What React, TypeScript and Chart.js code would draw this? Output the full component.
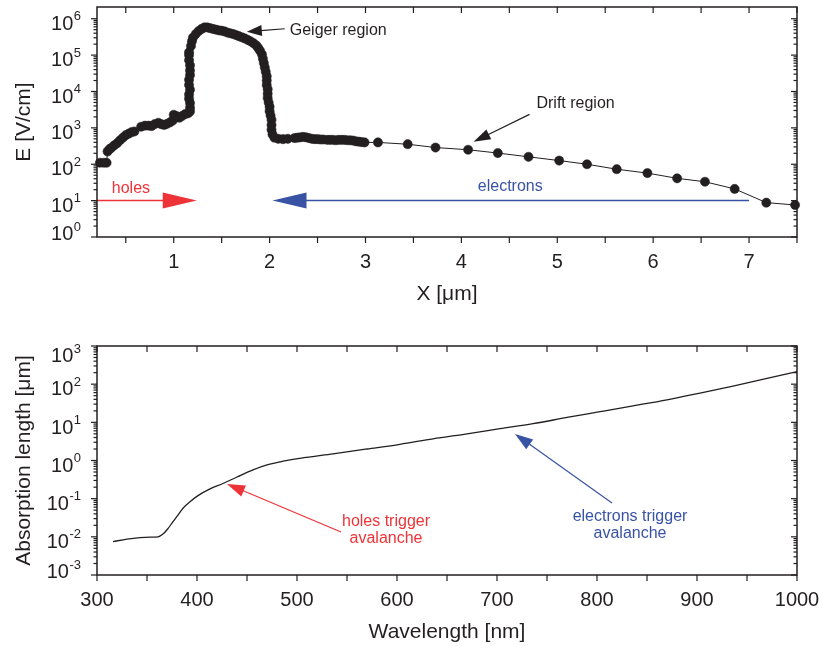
import React, { useEffect, useRef } from "react";
import { Chart, registerables } from "chart.js";

Chart.register(...registerables);

const INK = "#231f20";
const RED = "#ee3338";
const BLUE = "#3953a4";
const FONT = "'Liberation Sans', Arial, Helvetica, sans-serif";

// ---------- Top panel: electric field vs depth ----------
const positionX = [
  0.23, 0.27, 0.3, 0.31, 0.33, 0.35, 0.38, 0.41, 0.44, 0.47, 0.5, 0.53, 0.56, 0.59,
  0.66, 0.7, 0.74, 0.77, 0.8, 0.84, 0.87, 0.9, 0.93, 0.96, 0.99, 1.0, 1.03, 1.06,
  1.09, 1.12, 1.15, 1.17, 1.17, 1.17, 1.16, 1.16, 1.17, 1.16, 1.16, 1.17, 1.17,
  1.17, 1.16, 1.16, 1.16, 1.18, 1.19, 1.2, 1.23, 1.26, 1.29, 1.32, 1.35, 1.38,
  1.41, 1.44, 1.47, 1.5, 1.53, 1.56, 1.59, 1.62, 1.65, 1.68, 1.71, 1.74, 1.77,
  1.8, 1.83, 1.86, 1.88, 1.9, 1.92, 1.93, 1.94, 1.95, 1.96, 1.97, 1.97, 1.97,
  1.98, 1.98, 1.98, 1.99, 2.0, 2.0, 2.01, 2.02, 2.02, 2.02, 2.03, 2.05, 2.09,
  2.14, 2.19, 2.26, 2.29, 2.32, 2.35, 2.38, 2.41, 2.44, 2.47, 2.5, 2.53, 2.56,
  2.6, 2.63, 2.66, 2.69, 2.72, 2.75, 2.78, 2.81, 2.84, 2.87, 2.9, 2.93, 2.96,
  2.99, 3.13, 3.44, 3.73, 4.07, 4.38, 4.7, 5.02, 5.31, 5.62, 5.94, 6.25, 6.54,
  6.85, 7.18, 7.48,
];
const fieldE = [
  110, 110, 110, 224, 260, 282, 331, 380, 457, 537, 631, 692, 759, 794,
  1072, 1148, 1148, 1122, 1259, 1380, 1259, 1202, 1288, 1413, 1585, 2291, 2089, 1905,
  2138, 2399, 2512, 2818, 3548, 4786, 6310, 8318, 11220, 15136, 20893, 28184, 38019,
  52481, 72444, 100000, 120000, 177800, 240000, 302000, 380000, 457000, 525000, 575000, 575000, 550000,
  525000, 501000, 479000, 468000, 447000, 417000, 398000, 380000, 355000, 331000, 309000, 288000, 263000,
  240000, 214000, 186000, 158000, 132000, 105000, 79400, 60300, 45700, 34700, 26300, 20000, 15100,
  11500, 8710, 6610, 5010, 3800, 2880, 2190, 1660, 1200, 891, 661, 537, 501,
  490, 501, 525, 537, 550, 562, 550, 525, 501, 490, 490, 479, 479,
  468, 468, 468, 457, 468, 468, 468, 457, 457, 447, 427, 417, 407,
  398, 398, 355, 288, 250, 203, 160, 126, 100, 73, 57, 41, 33,
  21, 8.8, 7.6,
];
const topXMajor = [1, 2, 3, 4, 5, 6, 7];
const topXMinor = [0.5, 1.5, 2.5, 3.5, 4.5, 5.5, 6.5, 7.5];
const topDecades = [0, 1, 2, 3, 4, 5, 6];

// ---------- Bottom panel: absorption length vs wavelength ----------
const wavelength = [
  316, 330, 343, 353, 361, 366, 371, 376, 381, 386, 393, 401, 413, 426, 440, 456,
  470, 486, 503, 536, 570, 603, 636, 670, 703, 736, 770, 803, 836, 870, 903, 936,
  970, 1000,
];
const absorptionLength = [
  0.0075, 0.0087, 0.0095, 0.0098, 0.01, 0.0118, 0.0165, 0.025, 0.037, 0.056, 0.083, 0.12,
  0.18, 0.25, 0.37, 0.57, 0.77, 0.96, 1.14, 1.5, 2.0, 2.65, 3.7, 5.0, 6.8, 9.2,
  13.4, 19, 27, 39, 58, 89, 141, 214,
];
const botXMajor = [300, 400, 500, 600, 700, 800, 900, 1000];
const botXMinor = [350, 450, 550, 650, 750, 850, 950];
const botDecades = [-3, -2, -1, 0, 1, 2, 3];

type Arrow = { from: [number, number]; to: [number, number]; color: string; lw: number; head: number; half: number };
type Note = { text: string; x: number; y: number; color: string; align: CanvasTextAlign };

const topArrows: Arrow[] = [
  { from: [0.2, 10], to: [1.24, 10], color: RED, lw: 1.5, head: 34, half: 8 },
  { from: [7.0, 10], to: [2.03, 10], color: BLUE, lw: 1.5, head: 34, half: 8 },
  { from: [2.158, 531000], to: [1.7625, 440000], color: INK, lw: 1.2, head: 15, half: 5.5 },
  { from: [4.71, 2350], to: [4.127, 412], color: INK, lw: 1.2, head: 17, half: 5.5 },
];
const topNotes: Note[] = [
  { text: "holes", x: 0.554, y: 21, color: RED, align: "center" },
  { text: "electrons", x: 4.51, y: 25, color: BLUE, align: "center" },
  { text: "Geiger region", x: 2.21, y: 468000, color: INK, align: "left" },
  { text: "Drift region", x: 4.783, y: 4580, color: INK, align: "left" },
];
const botArrows: Arrow[] = [
  { from: [544, 0.0134], to: [430, 0.243], color: RED, lw: 1.2, head: 18, half: 6 },
  { from: [815, 0.077], to: [718, 4.95], color: BLUE, lw: 1.2, head: 18, half: 6 },
];
const botNotes: Note[] = [
  { text: "holes trigger", x: 589, y: 0.0245, color: RED, align: "center" },
  { text: "avalanche", x: 589, y: 0.0091, color: RED, align: "center" },
  { text: "electrons trigger", x: 833, y: 0.033, color: BLUE, align: "center" },
  { text: "avalanche", x: 833, y: 0.0119, color: BLUE, align: "center" },
];

type PanelCfg = {
  id: string;
  xMajor: number[];
  xMinor: number[];
  decades: number[];
  xTitle: string;
  yTitle: string;
  arrows: Arrow[];
  notes: Note[];
};

function drawArrow(ctx: CanvasRenderingContext2D, x1: number, y1: number, x2: number, y2: number, a: Arrow) {
  const ang = Math.atan2(y2 - y1, x2 - x1);
  const c = Math.cos(ang), s = Math.sin(ang);
  const bx = x2 - a.head * c, by = y2 - a.head * s;
  ctx.strokeStyle = a.color;
  ctx.fillStyle = a.color;
  ctx.lineWidth = a.lw;
  ctx.beginPath();
  ctx.moveTo(x1, y1);
  ctx.lineTo(bx + 1 * c, by + 1 * s);
  ctx.stroke();
  ctx.beginPath();
  ctx.moveTo(x2, y2);
  ctx.lineTo(bx - a.half * s, by + a.half * c);
  ctx.lineTo(bx + a.half * s, by - a.half * c);
  ctx.closePath();
  ctx.fill();
}

function makePanelPlugin(cfg: PanelCfg) {
  return {
    id: cfg.id,
    afterDraw(chart: any) {
      const { ctx, chartArea: a, scales } = chart;
      const xs = scales.x, ys = scales.y;
      ctx.save();
      const seg = (x1: number, y1: number, x2: number, y2: number) => {
        ctx.beginPath();
        ctx.moveTo(x1, y1);
        ctx.lineTo(x2, y2);
        ctx.stroke();
      };
      // annotations
      for (const ar of cfg.arrows) {
        drawArrow(
          ctx,
          xs.getPixelForValue(ar.from[0]), ys.getPixelForValue(ar.from[1]),
          xs.getPixelForValue(ar.to[0]), ys.getPixelForValue(ar.to[1]),
          ar
        );
      }
      ctx.font = `16px ${FONT}`;
      ctx.textBaseline = "middle";
      for (const n of cfg.notes) {
        ctx.fillStyle = n.color;
        ctx.textAlign = n.align;
        ctx.fillText(n.text, xs.getPixelForValue(n.x), ys.getPixelForValue(n.y));
      }
      // frame
      ctx.strokeStyle = INK;
      ctx.lineWidth = 1.5;
      ctx.strokeRect(a.left, a.top, a.right - a.left, a.bottom - a.top);
      // x ticks
      ctx.lineWidth = 1.2;
      for (const v of [...cfg.xMajor, ...cfg.xMinor]) {
        const px = xs.getPixelForValue(v);
        if (px < a.left - 0.5 || px > a.right + 0.5) continue;
        seg(px, a.bottom, px, a.bottom + 6);
        seg(px, a.top, px, a.top + 6);
      }
      // y ticks
      const dMin = Math.min(...cfg.decades), dMax = Math.max(...cfg.decades);
      for (let d = dMin; d <= dMax; d++) {
        for (let m = 1; m <= 9; m++) {
          if (d === dMax && m > 1) break;
          const py = ys.getPixelForValue(m * Math.pow(10, d));
          const len = m === 1 ? 6 : 3.5;
          seg(a.left - len, py, a.left, py);
          seg(a.right - len, py, a.right, py);
        }
      }
      // x tick labels
      ctx.fillStyle = INK;
      ctx.font = `20px ${FONT}`;
      ctx.textAlign = "center";
      ctx.textBaseline = "middle";
      for (const v of cfg.xMajor) {
        ctx.fillText(String(v), xs.getPixelForValue(v), a.bottom + 25);
      }
      // y tick labels 10^n
      const rightEdge = a.left - 16;
      for (const d of cfg.decades) {
        const py = ys.getPixelForValue(Math.pow(10, d));
        let cy = py + 4;
        cy = Math.max(cy, a.top + 9);
        cy = Math.min(cy, a.bottom - 4);
        const exp = String(d);
        ctx.font = `13px ${FONT}`;
        const ew = ctx.measureText(exp).width;
        ctx.textBaseline = "alphabetic";
        ctx.textAlign = "left";
        ctx.fillText(exp, rightEdge - ew, cy - 2.4);
        ctx.font = `20px ${FONT}`;
        ctx.textAlign = "right";
        ctx.fillText("10", rightEdge - ew - 0.5, cy + 7.2);
      }
      // titles
      ctx.font = `21px ${FONT}`;
      ctx.textAlign = "center";
      ctx.textBaseline = "middle";
      ctx.fillText(cfg.xTitle, (a.left + a.right) / 2, a.bottom + 57);
      ctx.translate(24, (a.top + a.bottom) / 2);
      ctx.rotate(-Math.PI / 2);
      ctx.fillText(cfg.yTitle, 0, 0);
      ctx.restore();
    },
  };
}

function Panel(props: { top: number; height: number; build: () => any }) {
  const ref = useRef<HTMLCanvasElement>(null);
  useEffect(() => {
    if (!ref.current) return;
    const chart = new Chart(ref.current, props.build());
    return () => chart.destroy();
  }, []);
  return (
    <canvas
      ref={ref}
      width={822}
      height={props.height}
      style={{ position: "absolute", left: 0, top: props.top, width: 822, height: props.height }}
    />
  );
}

function baseOptions(padding: any, xMin: number, xMax: number, yMin: number, yMax: number) {
  return {
    responsive: false,
    animation: false,
    devicePixelRatio: 1,
    events: [],
    layout: { padding },
    plugins: { legend: { display: false }, tooltip: { enabled: false } },
    scales: {
      x: { type: "linear", min: xMin, max: xMax, display: false },
      y: { type: "logarithmic", min: yMin, max: yMax, display: false },
    },
  };
}

const topPadding = { top: 7, left: 97, right: 25, bottom: 86 };
const botPadding = { top: 23, left: 97, right: 25, bottom: 71 };

function buildTop() {
  return {
    type: "line",
    data: {
      datasets: [
        {
          data: positionX.map((x, i) => ({ x, y: fieldE[i] })),
          borderColor: INK,
          borderWidth: 1,
          pointRadius: 4.6,
          pointBackgroundColor: INK,
          pointBorderColor: INK,
          pointBorderWidth: 0.5,
          tension: 0,
          clip: false,
        },
      ],
    },
    options: baseOptions(topPadding, 0.2, 7.5, 1, 2.1e6),
    plugins: [
      makePanelPlugin({
        id: "topPanel",
        xMajor: topXMajor,
        xMinor: topXMinor,
        decades: topDecades,
        xTitle: "X [\u03bcm]",
        yTitle: "E [V/cm]",
        arrows: topArrows,
        notes: topNotes,
      }),
    ],
  };
}

function buildBottom() {
  return {
    type: "line",
    data: {
      datasets: [
        {
          data: wavelength.map((x, i) => ({ x, y: absorptionLength[i] })),
          borderColor: INK,
          borderWidth: 1.3,
          pointRadius: 0,
          cubicInterpolationMode: "monotone",
          clip: false,
        },
      ],
    },
    options: baseOptions(botPadding, 300, 1000, 0.001, 1000),
    plugins: [
      makePanelPlugin({
        id: "botPanel",
        xMajor: botXMajor,
        xMinor: botXMinor,
        decades: botDecades,
        xTitle: "Wavelength [nm]",
        yTitle: "Absorption length [\u03bcm]",
        arrows: botArrows,
        notes: botNotes,
      }),
    ],
  };
}

export default function App() {
  return (
    <div style={{ position: "absolute", left: 0, top: 0, width: 822, height: 646, background: "#fff" }}>
      <Panel top={0} height={323} build={buildTop} />
      <Panel top={323} height={323} build={buildBottom} />
    </div>
  );
}
